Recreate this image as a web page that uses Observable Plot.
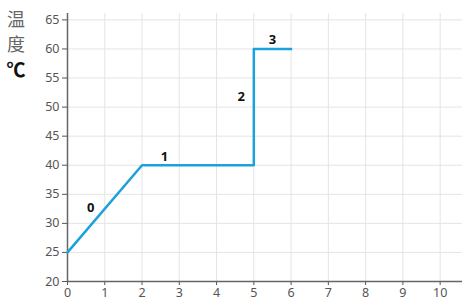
<!DOCTYPE html>
<html><head><meta charset="utf-8">
<script src="https://cdn.jsdelivr.net/npm/d3@7"></script>
<script src="https://cdn.jsdelivr.net/npm/@observablehq/plot@0.6"></script>
<style>
body{margin:0;background:#fff;}
#wrap{position:relative;width:462px;height:302px;}
#ylab{position:absolute;z-index:2;left:4px;top:6px;font-family:"Noto Sans CJK SC";color:#666;font-size:18px;line-height:25px;width:24px;text-align:center;}
#ylab .u{color:#111;font-weight:bold;font-size:19px;}
</style></head><body>
<div id="wrap"><div id="ylab">温<br>度<br><span class="u">℃</span></div></div>
<script>
const times = [0, 2, 5, 5, 6];
const temps = [25, 40, 40, 60, 60];
const segLabels = ["0", "1", "2", "3"];
const labelX = [0.62, 2.6, 4.66, 5.5];
const labelY = [32.6, 41.4, 51.8, 61.6];
const xTicks = [0,1,2,3,4,5,6,7,8,9,10];
const yTicks = [20,25,30,35,40,45,50,55,60,65];

const pts = times.map((t,i)=>({t, v: temps[i]}));
const labs = segLabels.map((s,i)=>({s, x: labelX[i], y: labelY[i]}));

const chart = Plot.plot({
  width: 462, height: 302,
  marginLeft: 67, marginRight: 0, marginTop: 13, marginBottom: 21,
  style: {fontFamily: "Noto Sans", fontSize: "12.5px", color: "#555", background: "#fff"},
  x: {domain: [0, 10.6], ticks: xTicks, label: null, tickSize: 4, tickPadding: 3},
  y: {domain: [20, 66.1], ticks: yTicks, label: null, tickSize: 5, tickPadding: 3},
  marks: [
    Plot.gridX(xTicks, {stroke: "#e4e4e4", strokeOpacity: 1}),
    Plot.gridY(yTicks, {stroke: "#e4e4e4", strokeOpacity: 1}),
    Plot.ruleX([0], {stroke: "#666", strokeWidth: 1.5}),
    Plot.ruleY([20], {stroke: "#666", strokeWidth: 1.5}),
    Plot.line(pts, {x: "t", y: "v", stroke: "#1ba1dc", strokeWidth: 2.5}),
    Plot.text(labs, {x: "x", y: "y", text: "s", fontWeight: "bold", fontSize: 13, fill: "#111"})
  ]
});
chart.style.position = "absolute"; chart.style.left = "0"; chart.style.top = "0"; chart.style.zIndex = "1";
document.getElementById("wrap").appendChild(chart);
</script></body></html>
